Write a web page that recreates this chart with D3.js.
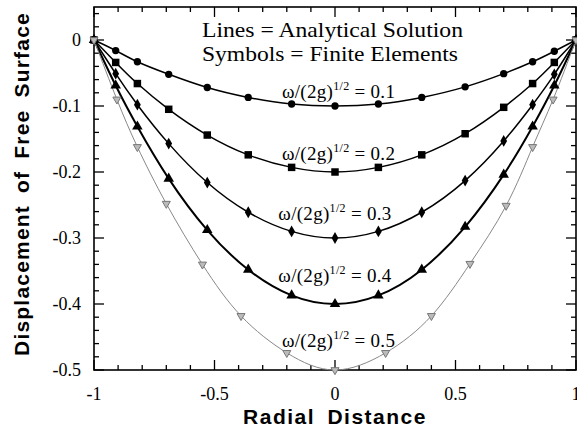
<!DOCTYPE html>
<html>
<head>
<meta charset="utf-8">
<script src="https://cdn.jsdelivr.net/npm/d3@7"></script>
<style>
  body { margin: 0; background: #fff; }
  svg { display: block; }
</style>
</head>
<body>
<svg width="577" height="430"></svg>
<script>
'use strict';

// finite element node positions (radial distance)
var xNodes = [-1, -0.91, -0.82, -0.69, -0.53, -0.36, -0.18, 0, 0.18, 0.36, 0.54, 0.70, 0.82, 0.91, 1];
var xNodes5 = [-1, -0.905, -0.82, -0.70, -0.55, -0.39, -0.20, 0, 0.21, 0.40, 0.56, 0.71, 0.82, 0.905, 1];

// free surface displacement
var s01 = [0, -0.016, -0.033, -0.052, -0.072, -0.087, -0.097, -0.100, -0.097, -0.087, -0.071, -0.051, -0.033, -0.017, 0];
var s02 = [0, -0.034, -0.066, -0.105, -0.144, -0.174, -0.193, -0.200, -0.193, -0.174, -0.142, -0.102, -0.066, -0.034, 0];
var s03 = [0, -0.051, -0.098, -0.157, -0.216, -0.261, -0.290, -0.300, -0.290, -0.261, -0.213, -0.153, -0.098, -0.052, 0];
var s04 = [0, -0.069, -0.131, -0.210, -0.288, -0.348, -0.387, -0.400, -0.387, -0.348, -0.283, -0.204, -0.131, -0.069, 0];
var s05 = [0, -0.090, -0.162, -0.248, -0.340, -0.418, -0.474, -0.500, -0.474, -0.418, -0.339, -0.251, -0.162, -0.090, 0];

var omegaLabels = ['0.1', '0.2', '0.3', '0.4', '0.5'];
var xTicks = [-1, -0.5, 0, 0.5, 1];
var yTicks = [0, -0.1, -0.2, -0.3, -0.4, -0.5];

var svg = d3.select('svg');

var pLeft = 94, pRight = 576, pTop = 7, pBottom = 370;

var x = d3.scaleLinear().domain([-1, 1]).range([pLeft, pRight]);
var y = d3.scaleLinear().domain([-0.5, 0.05]).range([pBottom, pTop]);

var series = [
    {xs: xNodes, ys: s01, sym: d3.symbolCircle, size: 42, rot: 0, color: '#000', width: 1.5},
    {xs: xNodes, ys: s02, sym: d3.symbolSquare, size: 56, rot: 0, color: '#000', width: 1.5},
    {xs: xNodes, ys: s03, sym: d3.symbolDiamond, size: 40, rot: 0, color: '#000', width: 1.5},
    {xs: xNodes, ys: s04, sym: d3.symbolTriangle, size: 48, rot: 0, color: '#000', width: 2},
    {xs: xNodes5, ys: s05, sym: d3.symbolTriangle, size: 28, rot: 180, color: '#888', width: 1}
];

// label layout: left edge and baseline (data units)
var labelPos = [[-0.22, -0.088], [-0.22, -0.182], [-0.235, -0.273], [-0.235, -0.367], [-0.22, -0.465]];

// ticks: major every 0.5 / 0.1, minor every 0.1 / 0.02
var xMinor = d3.range(-10, 11).map(function(i) { return i / 10; });
var yMinor = d3.range(-25, 3).map(function(i) { return i / 50; });

var axes = svg.append('g').attr('class', 'axes');

function tickLines(vals, isMajor, len) {
    vals.forEach(function(v) {
        var L = isMajor(v) ? len : len / 2;
        // bottom & top
        axes.append('line').attr('x1', x(v)).attr('x2', x(v)).attr('y1', pBottom).attr('y2', pBottom - L);
        axes.append('line').attr('x1', x(v)).attr('x2', x(v)).attr('y1', pTop).attr('y2', pTop + L);
    });
}
function tickLinesY(vals, isMajor, len) {
    vals.forEach(function(v) {
        var L = isMajor(v) ? len : len / 2;
        axes.append('line').attr('y1', y(v)).attr('y2', y(v)).attr('x1', pLeft).attr('x2', pLeft + L);
        axes.append('line').attr('y1', y(v)).attr('y2', y(v)).attr('x1', pRight).attr('x2', pRight - L);
    });
}
tickLines(xMinor, function(v) { return Math.abs(v * 2 - Math.round(v * 2)) < 1e-6; }, 10);
tickLinesY(yMinor, function(v) { return Math.abs(v * 10 - Math.round(v * 10)) < 1e-6; }, 10);
axes.selectAll('line').attr('stroke', '#000').attr('stroke-width', 1.3);

axes.append('rect')
    .attr('x', pLeft).attr('y', pTop)
    .attr('width', pRight - pLeft).attr('height', pBottom - pTop)
    .attr('fill', 'none').attr('stroke', '#000').attr('stroke-width', 1.6);

// tick labels (plain hyphen minus, as in the original)
function fmt(d) { return String(d); }

svg.append('g').selectAll('text').data(xTicks).enter().append('text')
    .attr('x', function(d) { return x(d); })
    .attr('y', 400)
    .attr('text-anchor', 'middle')
    .attr('font-family', 'Liberation Serif, Times New Roman, serif')
    .attr('font-size', 18)
    .text(fmt);

svg.append('g').selectAll('text').data(yTicks).enter().append('text')
    .attr('x', 81)
    .attr('y', function(d) { return y(d) + 6; })
    .attr('text-anchor', 'end')
    .attr('font-family', 'Liberation Serif, Times New Roman, serif')
    .attr('font-size', 18)
    .text(fmt);

// curves
var line = d3.line()
    .x(function(d) { return x(d[0]); })
    .y(function(d) { return y(d[1]); })
    .curve(d3.curveNatural);

series.forEach(function(s, i) {
    var pts = s.xs.map(function(v, j) { return [v, s.ys[j]]; });
    svg.append('path')
        .attr('d', line(pts))
        .attr('fill', 'none')
        .attr('stroke', s.color)
        .attr('stroke-width', s.width);
});

// symbols drawn after every curve so they sit on top
series.forEach(function(s) {
    var sym = d3.symbol().type(s.sym).size(s.size);
    svg.append('g').selectAll('path').data(s.xs).enter().append('path')
        .attr('d', sym)
        .attr('transform', function(d, j) {
            return 'translate(' + x(d) + ',' + y(s.ys[j]) + ') rotate(' + s.rot + ')';
        })
        .attr('fill', s.rot ? '#bbb' : '#000')
        .attr('stroke', s.rot ? '#777' : 'none')
        .attr('stroke-width', 1);
});

// curve labels
omegaLabels.forEach(function(lab, i) {
    var t = svg.append('text')
        .attr('x', x(labelPos[i][0]))
        .attr('y', y(labelPos[i][1]))
        .attr('font-family', 'Liberation Serif, Times New Roman, serif')
        .attr('font-size', 19)
        .attr('letter-spacing', 0.3);
    t.append('tspan').text('ω/(2g)');
    t.append('tspan').attr('dy', -8).attr('font-size', 12).text('1/2');
    t.append('tspan').attr('dy', 8).text(' = ' + lab);
});

// legend text
var legend = svg.append('g')
    .attr('font-family', 'Liberation Serif, Times New Roman, serif')
    .attr('font-size', 21);
legend.append('text').attr('x', 202).attr('y', 37)
    .attr('textLength', 261).attr('lengthAdjust', 'spacingAndGlyphs')
    .text('Lines = Analytical Solution');
legend.append('text').attr('x', 202).attr('y', 61)
    .attr('textLength', 256).attr('lengthAdjust', 'spacingAndGlyphs')
    .text('Symbols = Finite Elements');

// axis titles
svg.append('text')
    .attr('x', (pLeft + pRight) / 2)
    .attr('y', 424)
    .attr('text-anchor', 'middle')
    .attr('font-family', 'Liberation Sans, Arial, sans-serif')
    .attr('font-weight', 'bold')
    .attr('font-size', 21)
    .attr('letter-spacing', 1.5)
    .attr('word-spacing', 5)
    .text('Radial Distance');

svg.append('text')
    .attr('transform', 'translate(29,' + 184 + ') rotate(-90)')
    .attr('text-anchor', 'middle')
    .attr('font-family', 'Liberation Sans, Arial, sans-serif')
    .attr('font-weight', 'bold')
    .attr('font-size', 21)
    .attr('letter-spacing', 1.2)
    .attr('word-spacing', 5)
    .text('Displacement of Free Surface');
</script>
</body>
</html>
